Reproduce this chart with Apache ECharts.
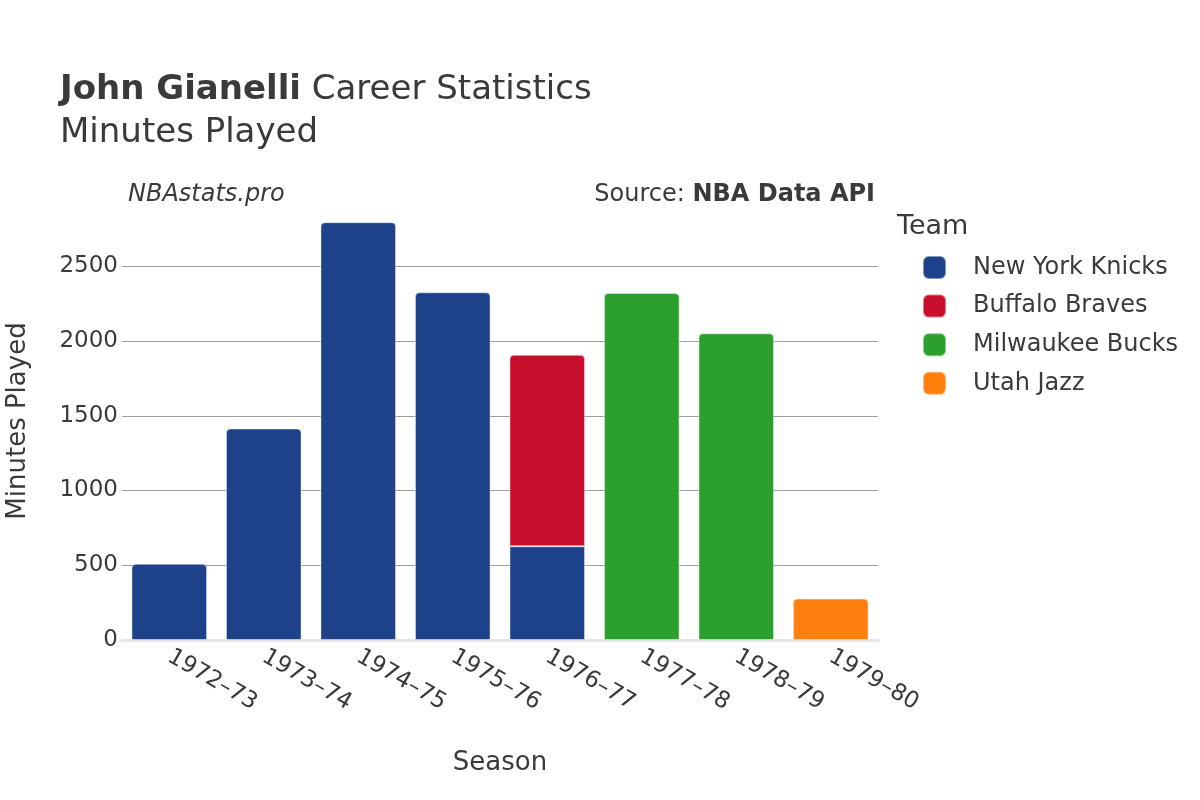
<!DOCTYPE html>
<html>
<head>
<meta charset="utf-8">
<script src="https://cdn.jsdelivr.net/npm/echarts@6/dist/echarts.min.js"></script>
<style>html,body{margin:0;padding:0;background:#fff}#c{width:1200px;height:800px}</style>
</head>
<body>
<div id="c"></div>
<script>
const seasons = ['1972–73','1973–74','1974–75','1975–76','1976–77','1977–78','1978–79','1979–80'];
const knicks  = [510, 1415, 2795, 2326, 627, null, null, null];
const braves  = [null, null, null, null, 1281, null, null, null];
const bucks   = [null, null, null, null, null, 2322, 2052, null];
const jazz    = [null, null, null, null, null, null, null, 277];
const teams = ['New York Knicks','Buffalo Braves','Milwaukee Bucks','Utah Jazz'];
const colors = ['#1d428a','#c8102e','#2ca02c','#ff7f0e'];
const yTicks = [0, 500, 1000, 1500, 2000, 2500];

const F = 'DejaVu Sans';
const TXT = '#3a3a3a';
const seriesData = [knicks, braves, bucks, jazz];

function topIndex(i){
  let t = -1;
  seriesData.forEach((arr, s) => { if (arr[i] != null) t = s; });
  return t;
}

const series = seriesData.map((arr, s) => ({
  name: teams[s],
  type: 'bar',
  stack: 'total',
  barCategoryGap: '20%',
  data: arr.map((v, i) => v == null ? null : {
    value: v,
    itemStyle: { borderRadius: topIndex(i) === s ? [4,4,0,0] : 0 }
  }),
  itemStyle: { color: colors[s], borderColor: 'rgba(255,255,255,0.45)', borderWidth: 1 }
}));

const chart = echarts.init(document.getElementById('c'), null, {renderer: 'canvas'});
chart.setOption({
  animation: false,
  backgroundColor: '#fff',
  color: colors,
  textStyle: { fontFamily: F },
  title: [
    { text: '{b|John Gianelli}{n| Career Statistics}', left: 55, top: 68, padding: 5,
      textStyle: { fontWeight: 'normal', rich: {
        b: { fontFamily: F, fontSize: 34, fontWeight: 'bold', color: TXT },
        n: { fontFamily: F, fontSize: 34, fontWeight: 'normal', color: TXT } } } },
    { text: 'Minutes Played', left: 55, top: 111,
      textStyle: { fontFamily: F, fontSize: 34, fontWeight: 'normal', color: TXT } },
    { text: 'NBAstats.pro', left: 123, top: 178,
      textStyle: { fontFamily: F, fontSize: 24, fontStyle: 'italic', fontWeight: 'normal', color: TXT } },
    { text: '{n|Source: }{b|NBA Data API}', right: 320, top: 178,
      textStyle: { fontWeight: 'normal', rich: {
        n: { fontFamily: F, fontSize: 24, fontWeight: 'normal', color: TXT },
        b: { fontFamily: F, fontSize: 24, fontWeight: 'bold', color: TXT } } } },
    { text: 'Team', left: 892, top: 208,
      textStyle: { fontFamily: F, fontSize: 27, fontWeight: 'normal', color: TXT } }
  ],
  legend: {
    orient: 'vertical', left: 917, top: 250,
    itemWidth: 23, itemHeight: 23, itemGap: 13.6,
    icon: 'roundRect',
    data: teams,
    textStyle: { fontFamily: F, fontSize: 24, lineHeight: 24, color: TXT, padding: [0,0,0,22] }
  },
  grid: { left: 122, right: 322, top: 202, bottom: 160, containLabel: false, outerBoundsMode: 'none' },
  xAxis: {
    type: 'category', data: seasons,
    name: 'Season', nameLocation: 'middle', nameGap: 110,
    nameTextStyle: { fontFamily: F, fontSize: 26, color: TXT },
    axisLine: { show: true, lineStyle: { color: '#e6e6e6', width: 3 } },
    axisTick: { show: false },
    axisLabel: { rotate: -30, fontFamily: F, fontSize: 23, color: TXT, margin: 15 }
  },
  yAxis: {
    type: 'value', min: 0, max: 2930, interval: 500,
    name: 'Minutes Played', nameLocation: 'middle', nameGap: 91, nameRotate: 90,
    nameTextStyle: { fontFamily: F, fontSize: 26, color: TXT },
    axisLine: { show: false }, axisTick: { show: false },
    axisLabel: { fontFamily: F, fontSize: 23, color: TXT, margin: 4,
      formatter: v => yTicks.indexOf(v) >= 0 ? String(v) : '' },
    splitLine: { show: true, lineStyle: { color: ['rgba(0,0,0,0)','#a0a0a0','#a0a0a0','#a0a0a0','#a0a0a0','#a0a0a0','rgba(0,0,0,0)'], width: 1 } }
  },
  series: series
});
</script>
</body>
</html>
